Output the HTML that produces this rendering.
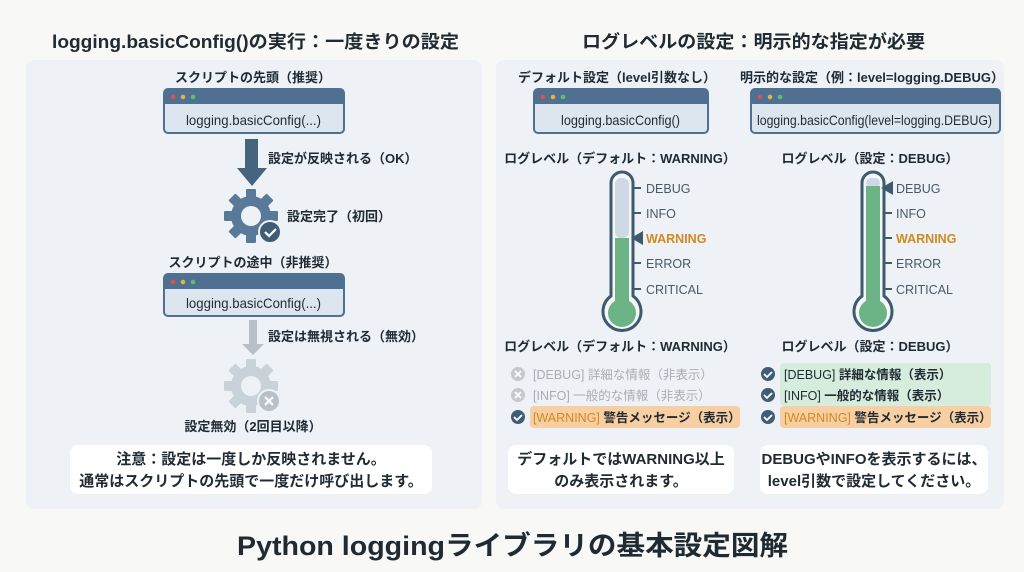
<!DOCTYPE html>
<html><head><meta charset="utf-8"><style>
html,body{margin:0;padding:0;background:#f8f8f6;}
svg{display:block;}
text{font-family:"Liberation Sans","Noto Sans CJK JP",sans-serif;font-weight:700;fill:#1f2a33;}
</style></head><body>
<svg width="1024" height="572" viewBox="0 0 1024 572" xmlns="http://www.w3.org/2000/svg">
<rect x="0" y="0" width="1024" height="572" fill="#f8f8f6"/>
<text x="52" y="48" font-size="18" textLength="407" lengthAdjust="spacingAndGlyphs">logging.basicConfig()の実行：一度きりの設定</text>
<text x="582" y="48" font-size="18" textLength="343" lengthAdjust="spacingAndGlyphs">ログレベルの設定：明示的な指定が必要</text>
<text x="237" y="555" font-size="27" textLength="551" lengthAdjust="spacingAndGlyphs">Python loggingライブラリの基本設定図解</text>

<rect x="26" y="60" width="456" height="449" rx="8" fill="#eef1f5"/>
<rect x="496" y="60" width="508" height="449" rx="8" fill="#eef1f5"/>

<!-- left -->
<text x="253" y="82" font-size="13" text-anchor="middle">スクリプトの先頭（推奨）</text>
<rect x="164" y="89" width="180" height="44" rx="4" fill="#dde6ef" stroke="#4f7090" stroke-width="2"/>
<path d="M164 104 V93 a4 4 0 0 1 4 -4 H340 a4 4 0 0 1 4 4 V104 Z" fill="#4f7090"/>
<circle cx="173" cy="97" r="2.3" fill="#e05050"/><circle cx="183" cy="97" r="2.3" fill="#e8b040"/><circle cx="193" cy="97" r="2.3" fill="#5cc070"/>
<text x="186" y="125" font-size="14" textLength="135" lengthAdjust="spacingAndGlyphs" style="font-weight:400">logging.basicConfig(...)</text>

<rect x="245" y="139" width="13" height="30" fill="#45647e"/>
<polygon points="237,168 267,168 252,186" fill="#45647e"/>
<text x="268" y="163" font-size="13">設定が反映される（OK）</text>

<g transform="translate(251,216)">
<g fill="#587a98">
<circle r="20"/>
<rect x="-5" y="-27" width="10" height="12" rx="1"/>
<rect x="-5" y="-27" width="10" height="12" rx="1" transform="rotate(45)"/>
<rect x="-5" y="-27" width="10" height="12" rx="1" transform="rotate(90)"/>
<rect x="-5" y="-27" width="10" height="12" rx="1" transform="rotate(135)"/>
<rect x="-5" y="-27" width="10" height="12" rx="1" transform="rotate(180)"/>
<rect x="-5" y="-27" width="10" height="12" rx="1" transform="rotate(225)"/>
<rect x="-5" y="-27" width="10" height="12" rx="1" transform="rotate(270)"/>
<rect x="-5" y="-27" width="10" height="12" rx="1" transform="rotate(315)"/>
</g>
<circle r="10" fill="#eef1f5"/>
<circle cx="19" cy="16" r="11" fill="#3f5d75" stroke="#eef1f5" stroke-width="2"/>
<path d="M14 16 l4 4 l7 -7" fill="none" stroke="#fff" stroke-width="2.2"/>
</g>
<text x="287" y="221" font-size="13">設定完了（初回）</text>

<text x="253" y="267" font-size="13" text-anchor="middle">スクリプトの途中（非推奨）</text>
<rect x="164" y="274" width="180" height="42" rx="4" fill="#dde6ef" stroke="#4f7090" stroke-width="2"/>
<path d="M164 289 V278 a4 4 0 0 1 4 -4 H340 a4 4 0 0 1 4 4 V289 Z" fill="#4f7090"/>
<circle cx="173" cy="282" r="2.3" fill="#e05050"/><circle cx="183" cy="282" r="2.3" fill="#e8b040"/><circle cx="193" cy="282" r="2.3" fill="#5cc070"/>
<text x="186" y="308" font-size="14" textLength="135" lengthAdjust="spacingAndGlyphs" style="font-weight:400">logging.basicConfig(...)</text>

<rect x="249" y="320" width="8" height="25" fill="#b9bfc6"/>
<polygon points="242,344 264,344 253,355" fill="#b9bfc6"/>
<text x="268" y="341" font-size="13">設定は無視される（無効）</text>

<g transform="translate(251,386)">
<g fill="#c9d1d9">
<circle r="20"/>
<rect x="-5" y="-27" width="10" height="12" rx="1"/>
<rect x="-5" y="-27" width="10" height="12" rx="1" transform="rotate(45)"/>
<rect x="-5" y="-27" width="10" height="12" rx="1" transform="rotate(90)"/>
<rect x="-5" y="-27" width="10" height="12" rx="1" transform="rotate(135)"/>
<rect x="-5" y="-27" width="10" height="12" rx="1" transform="rotate(180)"/>
<rect x="-5" y="-27" width="10" height="12" rx="1" transform="rotate(225)"/>
<rect x="-5" y="-27" width="10" height="12" rx="1" transform="rotate(270)"/>
<rect x="-5" y="-27" width="10" height="12" rx="1" transform="rotate(315)"/>
</g>
<circle r="10" fill="#eef1f5"/>
<circle cx="18" cy="15" r="11" fill="#b9c0c8" stroke="#eef1f5" stroke-width="2"/>
<path d="M14 11 l8 8 M22 11 l-8 8" stroke="#fff" stroke-width="2.2"/>
</g>
<text x="253" y="431" font-size="13" text-anchor="middle">設定無効（2回目以降）</text>

<rect x="70" y="445" width="362" height="49" rx="8" fill="#fff"/>
<text x="251" y="464" font-size="15" text-anchor="middle">注意：設定は一度しか反映されません。</text>
<text x="251" y="486" font-size="15" text-anchor="middle">通常はスクリプトの先頭で一度だけ呼び出します。</text>

<!-- right top -->
<text x="617" y="82" font-size="13" text-anchor="middle">デフォルト設定（level引数なし）</text>
<rect x="534" y="89" width="174" height="44" rx="4" fill="#dde6ef" stroke="#4f7090" stroke-width="2"/>
<path d="M534 104 V93 a4 4 0 0 1 4 -4 H704 a4 4 0 0 1 4 4 V104 Z" fill="#4f7090"/>
<circle cx="543" cy="97" r="2.3" fill="#e05050"/><circle cx="553" cy="97" r="2.3" fill="#e8b040"/><circle cx="563" cy="97" r="2.3" fill="#5cc070"/>
<text x="561" y="125" font-size="14" textLength="119" lengthAdjust="spacingAndGlyphs" style="font-weight:400">logging.basicConfig()</text>

<text x="872" y="82" font-size="13" text-anchor="middle">明示的な設定（例：level=logging.DEBUG）</text>
<rect x="751" y="89" width="249" height="44" rx="4" fill="#dde6ef" stroke="#4f7090" stroke-width="2"/>
<path d="M751 104 V93 a4 4 0 0 1 4 -4 H996 a4 4 0 0 1 4 4 V104 Z" fill="#4f7090"/>
<circle cx="760" cy="97" r="2.3" fill="#e05050"/><circle cx="770" cy="97" r="2.3" fill="#e8b040"/><circle cx="780" cy="97" r="2.3" fill="#5cc070"/>
<text x="757" y="125" font-size="14" textLength="235" lengthAdjust="spacingAndGlyphs" style="font-weight:400">logging.basicConfig(level=logging.DEBUG)</text>

<text x="620" y="163" font-size="13" text-anchor="middle">ログレベル（デフォルト：WARNING）</text>
<text x="870" y="163" font-size="13" text-anchor="middle">ログレベル（設定：DEBUG）</text>

<!-- thermometer left -->
<g>
<path d="M611 296 V183 a11 11 0 0 1 22 0 V296 a19 19 0 1 1 -22 0 Z" fill="#f4f6f8" stroke="#3d5a6e" stroke-width="3"/>
<rect x="615" y="178" width="14" height="60" rx="6" fill="#cfd9e3"/>
<rect x="615" y="238" width="14" height="70" fill="#6cb486"/>
<circle cx="622" cy="313" r="14" fill="#6cb486"/>
<g stroke="#3d5a6e" stroke-width="2"><line x1="634" y1="188" x2="641" y2="188"/><line x1="634" y1="213" x2="641" y2="213"/><line x1="634" y1="238" x2="641" y2="238"/><line x1="634" y1="263" x2="641" y2="263"/><line x1="634" y1="289" x2="641" y2="289"/></g>
<polygon points="631,238 643,231 643,245" fill="#3d5a6e"/>
<g font-size="12.5">
<text x="646" y="193" style="fill:#4a5a66;font-weight:400">DEBUG</text>
<text x="646" y="218" style="fill:#4a5a66;font-weight:400">INFO</text>
<text x="646" y="243" style="fill:#d08a20;font-weight:700">WARNING</text>
<text x="646" y="268" style="fill:#4a5a66;font-weight:400">ERROR</text>
<text x="646" y="294" style="fill:#4a5a66;font-weight:400">CRITICAL</text>
</g>
</g>
<!-- thermometer right -->
<g>
<path d="M862 296 V183 a11 11 0 0 1 22 0 V296 a19 19 0 1 1 -22 0 Z" fill="#f4f6f8" stroke="#3d5a6e" stroke-width="3"/>
<rect x="866" y="178" width="14" height="10" rx="5" fill="#cfd9e3"/>
<rect x="866" y="186" width="14" height="122" fill="#6cb486"/>
<circle cx="873" cy="313" r="14" fill="#6cb486"/>
<g stroke="#3d5a6e" stroke-width="2"><line x1="885" y1="213" x2="892" y2="213"/><line x1="885" y1="238" x2="892" y2="238"/><line x1="885" y1="263" x2="892" y2="263"/><line x1="885" y1="289" x2="892" y2="289"/></g>
<polygon points="881,188 893,181 893,195" fill="#3d5a6e"/>
<g font-size="12.5">
<text x="896" y="193" style="fill:#4a5a66;font-weight:400">DEBUG</text>
<text x="896" y="218" style="fill:#4a5a66;font-weight:400">INFO</text>
<text x="896" y="243" style="fill:#d08a20;font-weight:700">WARNING</text>
<text x="896" y="268" style="fill:#4a5a66;font-weight:400">ERROR</text>
<text x="896" y="294" style="fill:#4a5a66;font-weight:400">CRITICAL</text>
</g>
</g>

<text x="620" y="351" font-size="13" text-anchor="middle">ログレベル（デフォルト：WARNING）</text>
<text x="870" y="351" font-size="13" text-anchor="middle">ログレベル（設定：DEBUG）</text>

<!-- left list -->
<rect x="530" y="406" width="210" height="22" rx="4" fill="#f8cfa3"/>
<circle cx="518" cy="374" r="7" fill="#c5c9ce"/><path d="M515 371 l6 6 M521 371 l-6 6" stroke="#fff" stroke-width="1.6"/>
<circle cx="518" cy="395" r="7" fill="#c5c9ce"/><path d="M515 392 l6 6 M521 392 l-6 6" stroke="#fff" stroke-width="1.6"/>
<circle cx="518" cy="417" r="7" fill="#3f5d75"/><path d="M514 417 l3 3 l5 -5" fill="none" stroke="#fff" stroke-width="1.8"/>
<text x="533" y="379" font-size="12.5" style="fill:#a9aeb3;font-weight:400">[DEBUG] 詳細な情報（非表示）</text>
<text x="533" y="400" font-size="12.5" style="fill:#a9aeb3;font-weight:400">[INFO] 一般的な情報（非表示）</text>
<text x="533" y="422" font-size="12.5"><tspan style="fill:#d08a20;font-weight:400">[WARNING]</tspan> 警告メッセージ（表示）</text>

<!-- right list -->
<rect x="780" y="363" width="211" height="43" rx="4" fill="#d6ecdc"/>
<rect x="780" y="406" width="211" height="22" rx="4" fill="#f8cfa3"/>
<circle cx="768" cy="374" r="7" fill="#3f5d75"/><path d="M764 374 l3 3 l5 -5" fill="none" stroke="#fff" stroke-width="1.8"/>
<circle cx="768" cy="395" r="7" fill="#3f5d75"/><path d="M764 395 l3 3 l5 -5" fill="none" stroke="#fff" stroke-width="1.8"/>
<circle cx="768" cy="417" r="7" fill="#3f5d75"/><path d="M764 417 l3 3 l5 -5" fill="none" stroke="#fff" stroke-width="1.8"/>
<text x="784" y="379" font-size="12.5"><tspan style="font-weight:400">[DEBUG]</tspan> 詳細な情報（表示）</text>
<text x="784" y="400" font-size="12.5"><tspan style="font-weight:400">[INFO]</tspan> 一般的な情報（表示）</text>
<text x="784" y="422" font-size="12.5"><tspan style="fill:#d08a20;font-weight:400">[WARNING]</tspan> 警告メッセージ（表示）</text>

<rect x="508" y="445" width="226" height="49" rx="8" fill="#fff"/>
<text x="621" y="464" font-size="15" text-anchor="middle">デフォルトではWARNING以上</text>
<text x="621" y="486" font-size="15" text-anchor="middle">のみ表示されます。</text>
<rect x="760" y="445" width="228" height="49" rx="8" fill="#fff"/>
<text x="874" y="464" font-size="15" text-anchor="middle">DEBUGやINFOを表示するには、</text>
<text x="874" y="486" font-size="15" text-anchor="middle">level引数で設定してください。</text>
</svg>
</body></html>
